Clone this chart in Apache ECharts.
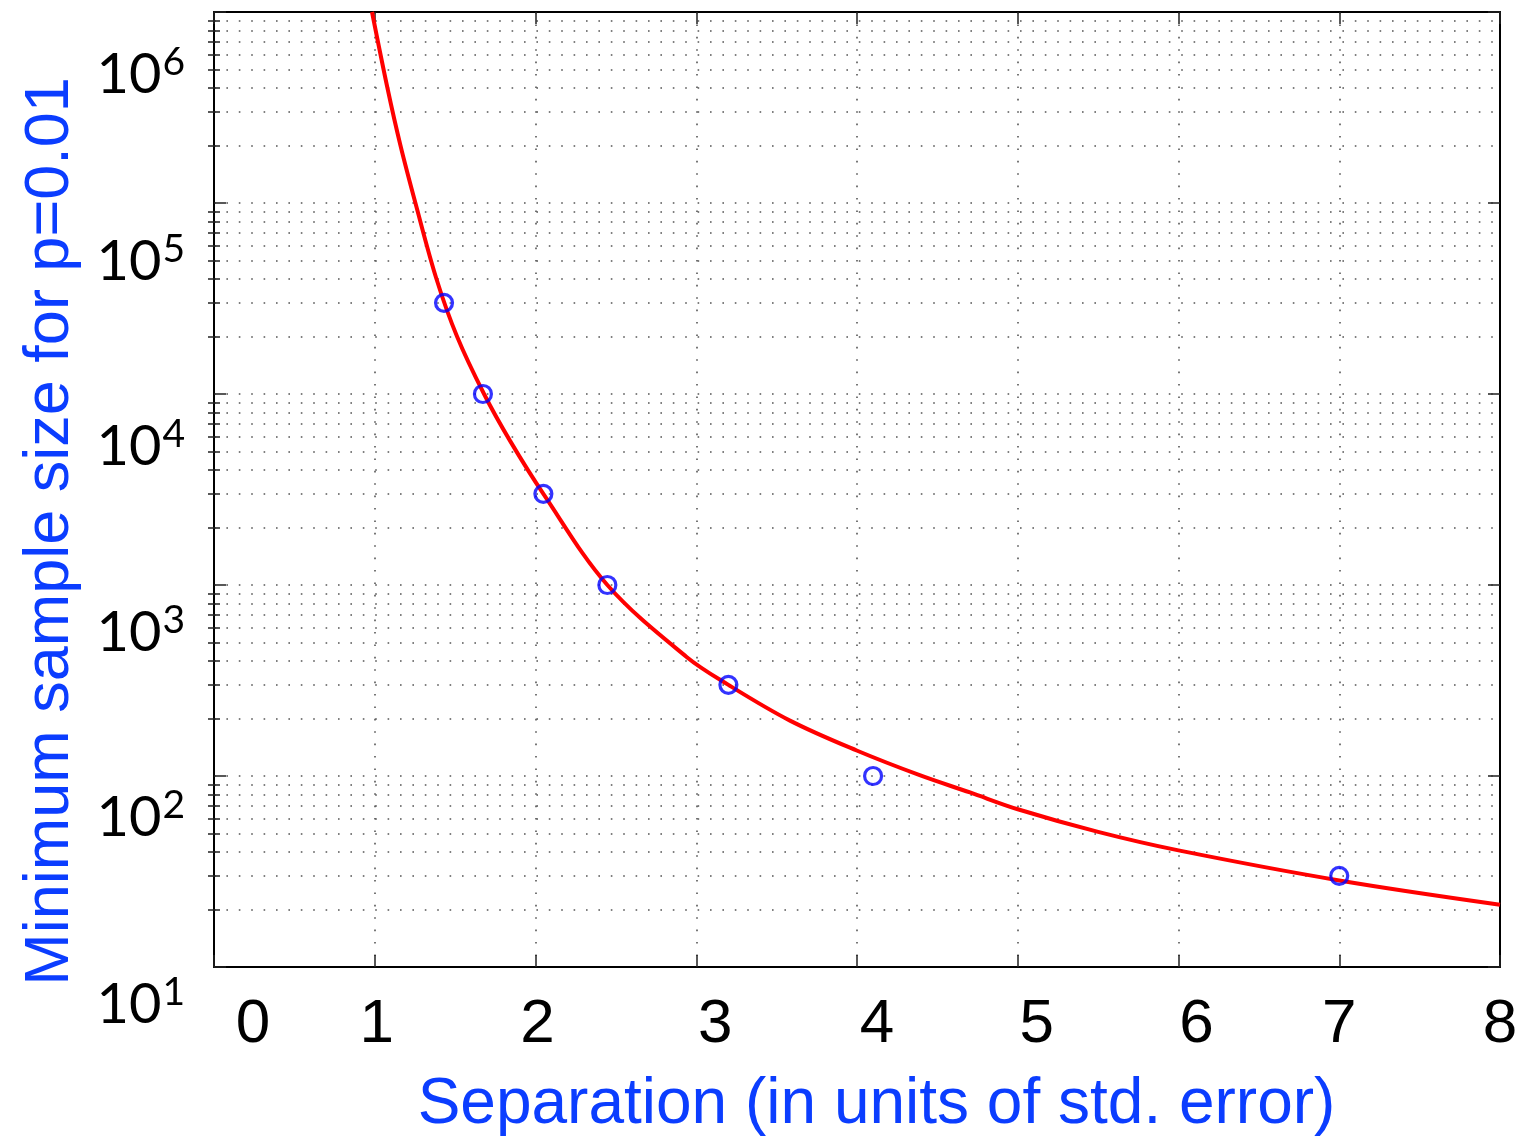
<!DOCTYPE html>
<html>
<head>
<meta charset="utf-8">
<script src="https://cdn.jsdelivr.net/npm/echarts@6/dist/echarts.min.js"></script>
<style>html,body{margin:0;padding:0;background:#fff}#c{width:1523px;height:1137px}</style>
</head>
<body>
<div id="c"></div>
<script>
// ---- data ----
const curveX = [0.983, 1.079, 1.16, 1.253, 1.384, 1.512, 1.68, 1.841, 2.049, 2.447, 2.94, 3.2, 3.583, 3.998, 4.39, 4.703, 5.0, 5.5, 6.0, 7.0, 8.0];
const curveY = [1000000, 400000, 200000, 100000, 40000, 20000, 10000, 5700, 3000, 1000, 420, 300, 195, 136, 101, 82, 67, 51, 40.8, 28.4, 21.2];
const pointX = [1.431, 1.673, 2.049, 2.447, 3.2, 4.1, 7.0];
const pointY = [30000, 10000, 3000, 1000, 300, 100, 30];
const xTicks = [0, 1, 2, 3, 4, 5, 6, 7, 8];
const yMajorTicks = [10, 100, 1000, 10000, 100000, 1000000];
const yMinorMultipliers = [2, 3, 4, 5, 6, 7, 8, 9];
const xTitle = 'Separation (in units of std. error)';
const yTitle = 'Minimum sample size for p=0.01';

// ---- derived ----
const yMinorTicks = [];
yMajorTicks.slice(0, -1).forEach(d => yMinorMultipliers.forEach(m => yMinorTicks.push(d * m)));

const BLUE_TEXT = '#0b3dff';
const xShift = {0: 39, 1: 2, 2: 2, 3: 19, 4: 20, 5: 19, 6: 18, 7: 0, 8: 0};
const yShift = {1: 38, 2: 42, 3: 48, 4: 53, 5: 59, 6: 63};

const xRich = {};
xTicks.forEach(v => {
  xRich['x' + v] = {fontFamily: 'Liberation Sans', fontSize: 62, color: '#000', padding: [0, 0, 0, 2 * xShift[v]]};
});
const yRich = {};
Object.keys(yShift).forEach(e => {
  const off = yShift[e];
  yRich['b' + e] = {fontFamily: 'Lato', fontSize: 56, color: '#000', padding: [2 * off, 0, 0, 0]};
  yRich['s' + e] = {fontFamily: 'Lato', fontSize: 39, color: '#000', verticalAlign: 'top', padding: [2 * off - 4, 0, 0, 1]};
});

const dotted = {color: '#555', width: 1.6, type: [1.6, 10.8]};
const frame = {show: true, onZero: false, lineStyle: {color: '#000', width: 2}};
const majorTick = {show: true, inside: true, length: 12, lineStyle: {color: '#222', width: 1.5}};
const minorTick = {show: true, inside: true, length: 6, lineStyle: {color: '#222', width: 1.5}};

const chart = echarts.init(document.getElementById('c'), null, {renderer: 'canvas'});
chart.setOption({
  animation: false,
  backgroundColor: '#fff',
  grid: {left: 214, right: 23, top: 12, bottom: 170, containLabel: false, outerBoundsMode: 'none'},
  xAxis: [
    {
      type: 'value', position: 'bottom', min: 0, max: 8, interval: 1,
      axisLine: frame, axisTick: majorTick,
      axisLabel: {margin: 27, formatter: v => '{x' + v + '|' + v + '}', rich: xRich},
      splitLine: {show: true, lineStyle: dotted},
      name: xTitle, nameLocation: 'middle', nameGap: 106,
      nameTextStyle: {fontFamily: 'Liberation Sans', fontSize: 64, color: BLUE_TEXT, padding: [0, 0, 0, 39]}
    },
    {
      type: 'value', position: 'top', min: 0, max: 8, interval: 1,
      axisLine: frame, axisTick: majorTick, axisLabel: {show: false}, splitLine: {show: false}
    }
  ],
  yAxis: [
    {
      type: 'log', logBase: 10, position: 'left', min: 10, max: 1000000,
      axisLine: frame,
      axisTick: Object.assign({customValues: yMajorTicks}, majorTick),
      axisLabel: {
        customValues: yMajorTicks, margin: 29,
        formatter: v => { const e = Math.round(Math.log10(v)); return '{b' + e + '|10}{s' + e + '|' + e + '}'; },
        rich: yRich
      },
      splitLine: {show: true, lineStyle: dotted},
      name: yTitle, nameLocation: 'middle', nameGap: 132, nameRotate: 90,
      nameTextStyle: {fontFamily: 'Liberation Sans', fontSize: 63, color: BLUE_TEXT, padding: [0, 84, 0, 0]}
    },
    {
      type: 'log', logBase: 10, position: 'right', min: 10, max: 1000000,
      axisLine: frame, axisTick: Object.assign({customValues: yMajorTicks}, majorTick),
      axisLabel: {show: false}, splitLine: {show: false}
    },
    {
      type: 'log', logBase: 10, position: 'left', min: 10, max: 1000000,
      axisLine: {show: false}, axisTick: Object.assign({customValues: yMinorTicks}, minorTick),
      axisLabel: {show: false}, splitLine: {show: true, lineStyle: dotted}
    },
    {
      type: 'log', logBase: 10, position: 'right', min: 10, max: 1000000,
      axisLine: {show: false}, axisTick: Object.assign({customValues: yMinorTicks}, minorTick),
      axisLabel: {show: false}, splitLine: {show: false}
    }
  ],
  series: [
    {
      type: 'line', xAxisIndex: 0, yAxisIndex: 0,
      data: curveX.map((x, i) => [x, curveY[i]]),
      smooth: 0.35, showSymbol: false, symbol: 'none', clip: true,
      lineStyle: {color: '#ff0000', width: 4}, z: 3
    },
    {
      type: 'scatter', xAxisIndex: 0, yAxisIndex: 0,
      data: pointX.map((x, i) => [x, pointY[i]]),
      symbol: 'circle', symbolSize: 17,
      itemStyle: {color: 'transparent', borderColor: '#0000ff', borderWidth: 3.2},
      z: 4
    }
  ]
});
</script>
</body>
</html>
